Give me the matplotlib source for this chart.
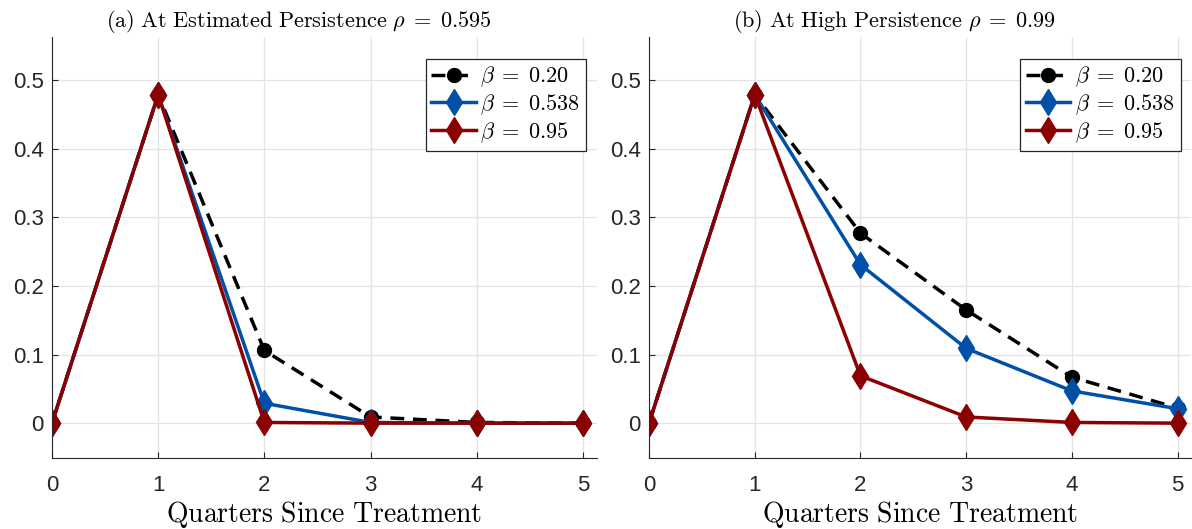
import matplotlib
matplotlib.use('Agg')
import matplotlib.pyplot as plt
import numpy as np

plt.rcParams['mathtext.fontset'] = 'cm'
plt.rcParams['font.family'] = ['Liberation Sans', 'DejaVu Sans']

quarters = [0, 1, 2, 3, 4, 5]
labels = [r'$\beta\;=\;0.20$', r'$\beta\;=\;0.538$', r'$\beta\;=\;0.95$']

# panel (a): estimated persistence
est_b020 = [0, 0.479, 0.106, 0.009, 0.001, 0.0]
est_b0538 = [0, 0.479, 0.029, 0.001, 0.0, 0.0]
est_b095 = [0, 0.479, 0.001, 0.0, 0.0, 0.0]

# panel (b): high persistence
high_b020 = [0, 0.479, 0.277, 0.165, 0.067, 0.022]
high_b0538 = [0, 0.479, 0.231, 0.109, 0.047, 0.021]
high_b095 = [0, 0.479, 0.069, 0.009, 0.001, 0.0]

titles = [r'$\mathrm{(a)\ At\ Estimated\ Persistence}\ \rho\;=\;0.595$',
          r'$\mathrm{(b)\ At\ High\ Persistence}\ \rho\;=\;0.99$']

black = 'black'
blue = '#0050aa'
red = '#8b0000'

fig = plt.figure(figsize=(11.92, 5.29), dpi=100)
ax1 = fig.add_axes([0.0436, 0.134, 0.457, 0.796])
ax2 = fig.add_axes([0.5445, 0.134, 0.455, 0.796])

for ax, series, title in [(ax1, [est_b020, est_b0538, est_b095], titles[0]),
                          (ax2, [high_b020, high_b0538, high_b095], titles[1])]:
    ax.plot(quarters, series[0], color=black, ls='--', lw=2.5, marker='o',
            ms=10, label=labels[0], dashes=(4, 2.5))
    ax.plot(quarters, series[1], color=blue, ls='-', lw=2.5, marker='d',
            ms=13, label=labels[1])
    ax.plot(quarters, series[2], color=red, ls='-', lw=2.5, marker='d',
            ms=13, label=labels[2])

    ax.set_xlim(0, 5.13)
    ax.set_ylim(-0.051, 0.563)
    ax.set_xticks(quarters)
    ax.set_yticks([0, 0.1, 0.2, 0.3, 0.4, 0.5])
    ax.set_yticklabels(['0', '0.1', '0.2', '0.3', '0.4', '0.5'])
    ax.tick_params(labelsize=16, colors='#262626', direction='in', length=4,
                   pad=12)
    ax.tick_params(axis='y', pad=6)
    ax.grid(True, color='#e3e3e3', lw=0.9)
    ax.set_axisbelow(True)
    for s in ['top', 'right']:
        ax.spines[s].set_visible(False)
    for s in ['left', 'bottom']:
        ax.spines[s].set_color('#262626')
    ax.set_title(title, fontsize=16, pad=7, x=0.453)
    ax.set_xlabel(r'$\mathrm{Quarters\ Since\ Treatment}$', fontsize=20,
                  labelpad=2)
    leg = ax.legend(loc='upper right', bbox_to_anchor=(0.98, 0.948),
                    fontsize=16, fancybox=False,
                    framealpha=1, edgecolor='#262626', handlelength=2.0,
                    handletextpad=0.2, borderpad=0.25, labelspacing=0.15,
                    borderaxespad=0)
    leg.get_frame().set_linewidth(0.9)

fig.savefig('out.png', dpi=100)
